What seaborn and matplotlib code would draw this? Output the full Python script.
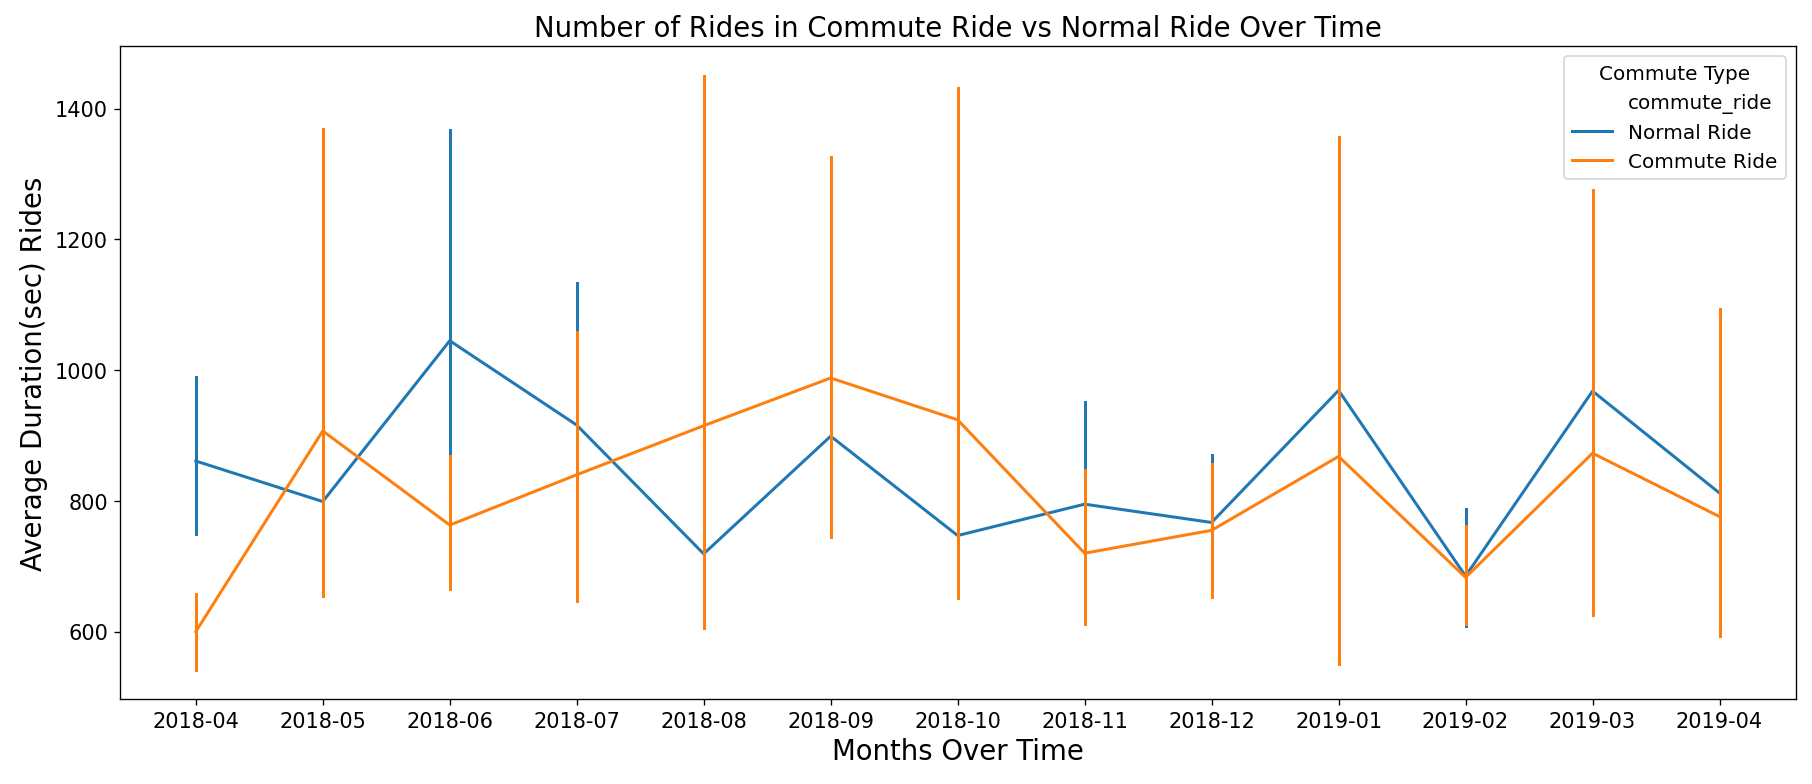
import numpy as np
import pandas as pd
import matplotlib
matplotlib.use("Agg")
import matplotlib.pyplot as plt
import seaborn as sns
from matplotlib.lines import Line2D

# months on the x axis
months = ["2018-04", "2018-05", "2018-06", "2018-07", "2018-08", "2018-09", "2018-10",
          "2018-11", "2018-12", "2019-01", "2019-02", "2019-03", "2019-04"]

# average duration (sec) per month
normal_mean = [861, 799, 1045, 916, 719, 899, 747, 795, 767, 969, 685, 968, 812]
normal_low = [750, 720, 760, 740, 660, 810, 690, 680, 690, 860, 608, 860, 720]
normal_high = [990, 880, 1367, 1133, 780, 990, 810, 952, 870, 1080, 788, 1080, 900]

commute_mean = [600, 907, 763, 840, 915, 988, 924, 720, 755, 868, 683, 873, 776]
commute_low = [542, 655, 665, 647, 605, 745, 651, 611, 653, 550, 611, 626, 594]
commute_high = [658, 1369, 869, 1059, 1450, 1326, 1431, 848, 856, 1357, 762, 1276, 1094]

# long table: low / mean / high per month, median gives the line, min-max the bar
rows = []
for name, lo, mid, hi in [("Normal Ride", normal_low, normal_mean, normal_high),
                          ("Commute Ride", commute_low, commute_mean, commute_high)]:
    for m, a, b, c in zip(months, lo, mid, hi):
        for v in (a, b, c):
            rows.append({"month": m, "commute_ride": name, "duration": v})
df = pd.DataFrame(rows)

fig, ax = plt.subplots(figsize=(15.1, 6.54), dpi=120)
fig.subplots_adjust(left=0.066, right=0.991, top=0.940, bottom=0.108)

sns.lineplot(data=df, x="month", y="duration", hue="commute_ride",
             hue_order=["Normal Ride", "Commute Ride"],
             estimator="median", errorbar=("pi", 100), err_style="bars",
             err_kws={"linewidth": 1.8}, linewidth=1.8,
             palette=["#1f77b4", "#ff7f0e"], ax=ax)

ax.set_title("Number of Rides in Commute Ride vs Normal Ride Over Time", fontsize=16.5)
ax.set_xlabel("Months Over Time", fontsize=16.5)
ax.set_ylabel("Average Duration(sec) Rides", fontsize=16.5)
ax.tick_params(labelsize=12.5)

handles, labels = ax.get_legend_handles_labels()
blank = Line2D([], [], linestyle="none", marker=None)
ax.legend([blank] + handles, ["commute_ride"] + labels, title="Commute Type",
          loc="upper right", fontsize=12, title_fontsize=12)

fig.savefig("out.png", dpi=120)
